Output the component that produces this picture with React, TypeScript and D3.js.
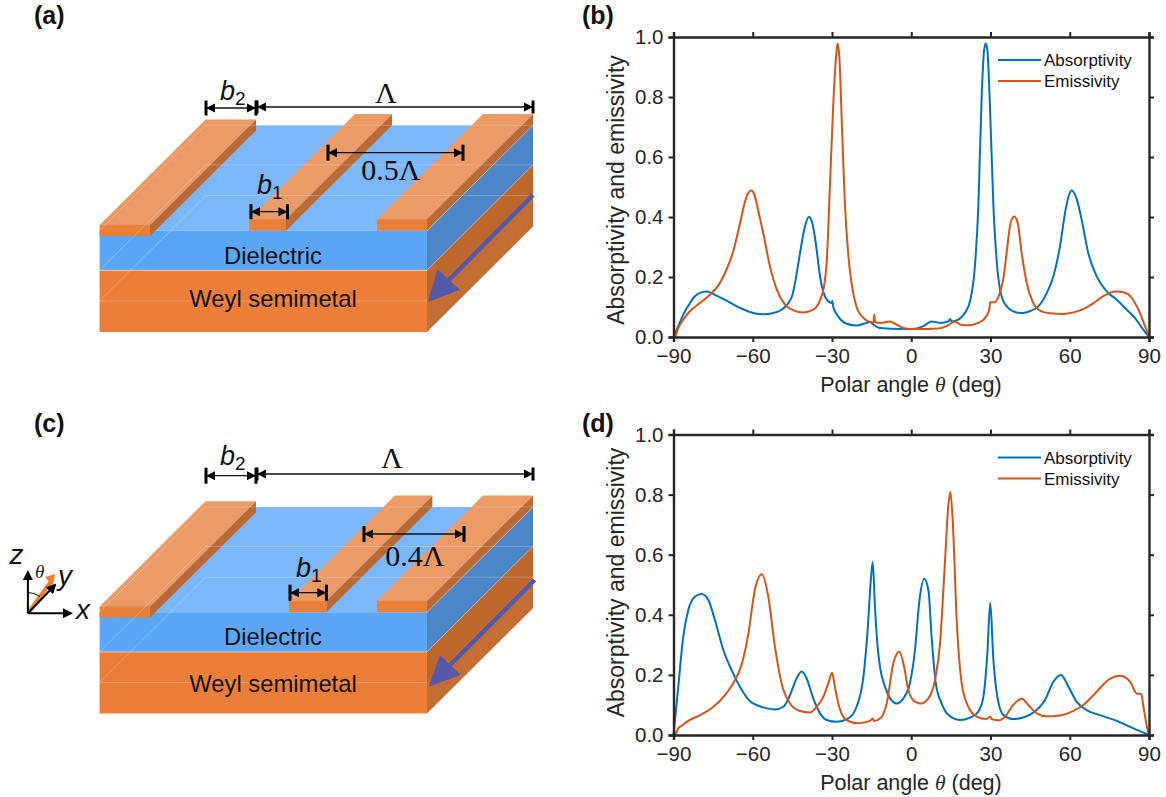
import React, { useEffect, useRef } from 'react';
import * as d3 from 'd3';

type Pt = [number, number];

const xTicks = [-90, -60, -30, 0, 30, 60, 90];
const yTicks = [0, 0.2, 0.4, 0.6, 0.8, 1];
const seriesNames = ['Absorptivity', 'Emissivity'];

// panel (b) as [angle, value]
const absorptivityB: Pt[] = [
  [-90, 0], [-88, 0.04], [-86, 0.08], [-84, 0.11], [-82, 0.135], [-80, 0.147], [-77.4, 0.152], [-73.7, 0.138], [-69.9, 0.121],
  [-64.8, 0.097], [-59.8, 0.08], [-56, 0.076], [-52.2, 0.08], [-49.1, 0.091], [-46.5, 0.113], [-45, 0.14], [-44, 0.18], [-42.1, 0.28],
  [-40.2, 0.37], [-38.8, 0.4], [-37.6, 0.385], [-36.6, 0.34], [-35.8, 0.29], [-34.5, 0.2], [-33.3, 0.15], [-31.4, 0.119], [-30.1, 0.113],
  [-29.9, 0.12], [-29.5, 0.1], [-27.6, 0.068], [-24.4, 0.044], [-20.7, 0.038], [-16.9, 0.047], [-15.5, 0.05], [-14.4, 0.042], [-11.8, 0.03],
  [-4.2, 0.027], [0.8, 0.027], [4.6, 0.036], [7.7, 0.052], [10.9, 0.047], [14.1, 0.052], [14.7, 0.06], [15.3, 0.052], [17.8, 0.058],
  [20.3, 0.08], [22.4, 0.124], [24.1, 0.236], [25.4, 0.436], [26.7, 0.813], [27.6, 0.958], [28.2, 0.978], [28.8, 0.958], [29.8, 0.769],
  [31.1, 0.436], [32.3, 0.258], [34.2, 0.136], [36.7, 0.097], [39.9, 0.082], [42.4, 0.08], [44.9, 0.086], [48.1, 0.102], [51.3, 0.147],
  [53.8, 0.202], [56.3, 0.302], [58.2, 0.413], [59.6, 0.47], [60.7, 0.488], [62.7, 0.458], [64.5, 0.391], [67, 0.28], [70.2, 0.202],
  [74, 0.152], [77.8, 0.124], [81.6, 0.091], [84.7, 0.063], [87.9, 0.024], [90, 0],
];
const emissivityB: Pt[] = [
  [-90, 0], [-89.4, 0.002], [-88.2, 0.03], [-86.3, 0.058], [-83.8, 0.086], [-80, 0.113], [-76.2, 0.141], [-73, 0.172], [-69.9, 0.225],
  [-67.4, 0.285], [-64.8, 0.38], [-62.9, 0.452], [-61.7, 0.48], [-60.6, 0.488], [-59.4, 0.475], [-57.9, 0.42], [-56, 0.345], [-53.5, 0.236],
  [-50.9, 0.158], [-47.8, 0.108], [-44.6, 0.089], [-40.8, 0.082], [-37.1, 0.091], [-34.5, 0.124], [-33, 0.17], [-32, 0.25], [-30.8, 0.5],
  [-29.5, 0.78], [-28.5, 0.93], [-27.9, 0.978], [-27.2, 0.93], [-26.3, 0.72], [-25.2, 0.46], [-23.8, 0.27], [-22.6, 0.18], [-20.7, 0.1],
  [-18.8, 0.07], [-16.3, 0.052], [-14.6, 0.048], [-14.3, 0.05], [-14, 0.075], [-13.7, 0.05], [-11.8, 0.047], [-8, 0.052], [-5.5, 0.041],
  [-3, 0.03], [0, 0.027], [5.8, 0.027], [10.2, 0.028], [13.4, 0.036], [16.5, 0.052], [19, 0.04], [21.6, 0.039], [25.4, 0.047], [27.9, 0.063],
  [29.5, 0.091], [29.9, 0.116], [31.7, 0.116], [33.3, 0.141], [34.8, 0.191], [36.1, 0.28], [37.6, 0.38], [39, 0.402], [40.3, 0.38], [41.8, 0.28],
  [43.7, 0.18], [46.2, 0.113], [48.7, 0.088], [52.5, 0.079], [57.6, 0.077], [61.4, 0.082], [65.1, 0.093], [69, 0.113], [72.7, 0.136],
  [77.2, 0.152], [80.3, 0.149], [83.5, 0.13], [86, 0.091], [88.5, 0.036], [90, 0],
];

// panel (d)
const absorptivityD: Pt[] = [
  [-90, 0], [-88.2, 0.16], [-86.3, 0.327], [-84.4, 0.416], [-81.9, 0.46], [-79.3, 0.469], [-76.8, 0.449], [-74.3, 0.382], [-71.1, 0.282],
  [-68, 0.216], [-64.8, 0.16], [-61, 0.112], [-56, 0.092], [-51.6, 0.085], [-48.4, 0.094], [-45.9, 0.133], [-43.4, 0.188], [-41.5, 0.211],
  [-39.6, 0.188], [-37.1, 0.122], [-34.5, 0.072], [-32, 0.05], [-28.2, 0.044], [-23.8, 0.055], [-20.7, 0.094], [-18.1, 0.194], [-16.6, 0.338],
  [-15.3, 0.515], [-14.6, 0.576], [-13.7, 0.42], [-12.8, 0.3], [-11.8, 0.225], [-9.9, 0.16], [-8, 0.122], [-5.5, 0.105], [-3, 0.122],
  [-0.5, 0.172], [1.4, 0.282], [3.1, 0.448], [4.9, 0.52], [6.5, 0.482], [7.7, 0.327], [9.3, 0.172], [11.5, 0.105], [14, 0.067], [18.4, 0.05],
  [22.2, 0.058], [25.4, 0.078], [27.3, 0.127], [28.8, 0.271], [29.9, 0.44], [31.1, 0.25], [32.3, 0.144], [34.8, 0.067], [38.7, 0.053],
  [42.4, 0.058], [46.8, 0.078], [50.6, 0.116], [53.8, 0.177], [56.7, 0.2], [59.5, 0.161], [62.6, 0.111], [66.4, 0.083], [71.4, 0.066],
  [77.8, 0.047], [84.1, 0.022], [90, 0],
];
const emissivityD: Pt[] = [
  [-90, 0], [-89.4, 0.002], [-88.2, 0.022], [-86.9, 0.031], [-83.8, 0.05], [-80, 0.066], [-74.9, 0.094], [-70.5, 0.133], [-67.4, 0.172],
  [-64.2, 0.235], [-61.7, 0.335], [-59.2, 0.483], [-56.6, 0.535], [-54.1, 0.46], [-51.6, 0.294], [-49.1, 0.172], [-45.9, 0.105], [-42.1, 0.08],
  [-38.3, 0.075], [-35.8, 0.094], [-33.3, 0.127], [-31.4, 0.172], [-30, 0.207], [-28.9, 0.16], [-27.6, 0.105], [-25.7, 0.06], [-23.2, 0.044],
  [-20, 0.039], [-15.6, 0.047], [-14.6, 0.055], [-14.1, 0.047], [-11.8, 0.055], [-9.3, 0.105], [-6.8, 0.238], [-4.5, 0.277], [-2.7, 0.227],
  [-1.1, 0.15], [1.4, 0.111], [3.6, 0.105], [6.5, 0.122], [9, 0.183], [10.9, 0.305], [12.8, 0.582], [14, 0.76], [14.8, 0.809], [15.7, 0.715],
  [17.2, 0.383], [19.1, 0.172], [21.6, 0.094], [24.8, 0.061], [28.5, 0.053], [29.9, 0.061], [30.5, 0.053], [32.9, 0.049], [35.5, 0.061],
  [38.6, 0.1], [41.8, 0.121], [44.3, 0.1], [47.5, 0.072], [51.2, 0.062], [56.3, 0.065], [61.4, 0.08], [65.8, 0.105], [70.2, 0.144], [75.3, 0.188],
  [79.1, 0.197], [82.9, 0.177], [85.4, 0.138], [87.1, 0.136], [87.9, 0.094], [89.2, 0.028], [89.8, 0.005], [90, 0],
];

const BLUE = '#0072BD';
const ORANGE = '#D95319';
const INK = '#262626';
const SANS = '"Liberation Sans", Arial, sans-serif';
const SERIF = '"Liberation Serif", serif';

function Plot({ top, bottom, abs, emi, labelY }: { top: number; bottom: number; abs: Pt[]; emi: Pt[]; labelY: number }) {
  const ref = useRef<SVGGElement>(null);

  useEffect(() => {
    const left = 673.5;
    const right = 1149;
    const x = d3.scaleLinear().domain([-90, 90]).range([left, right]);
    const y = d3.scaleLinear().domain([0, 1]).range([bottom, top]);
    const g = d3.select(ref.current);
    g.selectAll('*').remove();

    const line = d3.line<Pt>().x(d => x(d[0])).y(d => y(d[1])).curve(d3.curveMonotoneX);
    g.append('path').attr('d', line(abs)).attr('fill', 'none').attr('stroke', BLUE).attr('stroke-width', 2);
    g.append('path').attr('d', line(emi)).attr('fill', 'none').attr('stroke', ORANGE).attr('stroke-width', 2);

    const xFmt = (d: any) => (d < 0 ? `\u2212${-d}` : `${d}`);
    const yFmt = (d: any) => d3.format('.1f')(d);
    const axes = [
      { a: d3.axisBottom(x).tickValues(xTicks).tickFormat(xFmt).tickPadding(6), t: `translate(0,${bottom})` },
      { a: d3.axisTop(x).tickValues(xTicks).tickFormat(() => ''), t: `translate(0,${top})` },
      { a: d3.axisLeft(y).tickValues(yTicks).tickFormat(yFmt).tickPadding(5), t: `translate(${left},0)` },
      { a: d3.axisRight(y).tickValues(yTicks).tickFormat(() => ''), t: `translate(${right},0)` },
    ];
    axes.forEach(({ a, t }) => {
      const ax = g.append('g').attr('transform', t).call(a.tickSize(5) as any);
      ax.attr('font-family', SANS).attr('font-size', 20.5);
      ax.select('.domain').attr('stroke', INK).attr('stroke-width', 2.4);
      ax.selectAll('.tick line').attr('stroke', INK).attr('stroke-width', 2);
      ax.selectAll('.tick text').attr('fill', INK);
    });

    // legend
    const legendY = [top + 23, top + 44];
    seriesNames.forEach((name, i) => {
      g.append('line').attr('x1', 998).attr('x2', 1041).attr('y1', legendY[i]).attr('y2', legendY[i])
        .attr('stroke', i === 0 ? BLUE : ORANGE).attr('stroke-width', 2.2);
      g.append('text').attr('x', 1044).attr('y', legendY[i] + 6).attr('font-family', SANS)
        .attr('font-size', 17).attr('fill', '#111').text(name);
    });

    g.append('text').attr('transform', `translate(624,${labelY}) rotate(-90)`)
      .attr('text-anchor', 'middle').attr('font-family', SANS).attr('font-size', 23).attr('fill', INK)
      .text('Absorptivity and emissivity');

    const xl = g.append('text').attr('x', 911).attr('y', bottom + 55).attr('text-anchor', 'middle')
      .attr('font-family', SANS).attr('font-size', 21.5).attr('fill', INK);
    xl.append('tspan').text('Polar angle ');
    xl.append('tspan').attr('font-family', SERIF).attr('font-style', 'italic').text('\u03B8');
    xl.append('tspan').text(' (deg)');
  }, [top, bottom, abs, emi, labelY]);

  return <g ref={ref} />;
}

function Dim({ x1, x2, y, h }: { x1: number; x2: number; y: number; h: number }) {
  const head = 9;
  const hw = 4.5;
  return (
    <g>
      <line x1={x1} x2={x2} y1={y} y2={y} stroke="#111" strokeWidth={1.3} />
      <line x1={x1} x2={x1} y1={y - h} y2={y + h} stroke="#000" strokeWidth={3} />
      <line x1={x2} x2={x2} y1={y - h} y2={y + h} stroke="#000" strokeWidth={3} />
      <path d={`M${x1},${y}L${x1 + head},${y - hw}L${x1 + head},${y + hw}Z`} fill="#000" />
      <path d={`M${x2},${y}L${x2 - head},${y - hw}L${x2 - head},${y + hw}Z`} fill="#000" />
    </g>
  );
}

function Poly({ pts, fill, opacity }: { pts: Pt[]; fill: string; opacity?: number }) {
  return <polygon points={pts.map(p => p.join(',')).join(' ')} fill={fill} fillOpacity={opacity ?? 1} />;
}

const DEPTH_X = 106;
const DEPTH_Y = 105.4;

function Strip({ x0, x1, yTop, h }: { x0: number; x1: number; yTop: number; h: number }) {
  const b = yTop - DEPTH_Y;
  return (
    <g>
      <Poly pts={[[x1, yTop], [x1 + DEPTH_X, b], [x1 + DEPTH_X, b + h], [x1, yTop + h]]} fill="#BC6A33" />
      <Poly pts={[[x0, yTop], [x1, yTop], [x1 + DEPTH_X, b], [x0 + DEPTH_X, b]]} fill="#EC9A66" />
      <Poly pts={[[x0, yTop], [x1, yTop], [x1, yTop + h], [x0, yTop + h]]} fill="#EA7F38" />
    </g>
  );
}

function Block({ dy, stripX, arrow }: { dy: number; stripX: [number, number]; arrow: Pt[] }) {
  const L = 99.6;
  const R = 427;
  const T = 230.7 + dy; // front top edge of the dielectric
  const M = 270.3 + dy;
  const S = 301 + dy; // faint seam inside the metal layer
  const B = 332 + dy;
  const dx = DEPTH_X;
  const d = DEPTH_Y;
  const hidden = 'rgba(255,255,255,0.3)';
  return (
    <g>
      <Poly pts={[[R, T], [R + dx, T - d], [R + dx, M - d], [R, M]]} fill="#4C86C6" />
      <Poly pts={[[R, M], [R + dx, M - d], [R + dx, B - d], [R, B]]} fill="#C46E33" />
      <Poly pts={[[R, M], [R + dx, M - d], [R + dx, S - d], [R, S]]} fill="#BE672A" />
      <Poly pts={[[L, T], [R, T], [R + dx, T - d], [L + dx, T - d]]} fill="#7BB7F9" />
      <Poly pts={[[L, T], [R, T], [R, M], [L, M]]} fill="#5BA7F5" />
      <Poly pts={[[L, M], [R, M], [R, B], [L, B]]} fill="#ED7E37" />
      <Strip x0={stripX[0]} x1={stripX[1]} yTop={219.3 + dy} h={11.4} />
      <Strip x0={377} x1={R} yTop={219.3 + dy} h={11.4} />
      <Strip x0={L} x1={150} yTop={225 + dy} h={11} />
      <g stroke={hidden} strokeWidth={0.8} fill="none">
        <path d={`M${L},${T}L${L + dx},${T - d}H${R + dx}M${L},${M}L${L + dx},${M - d}H${R + dx}M${L},${S}L${L + dx},${S - d}H${R + dx}M${L},${S}H${R}`} />
      </g>
      <path d={`M${L},${M}H${R}`} stroke="rgba(255,255,255,0.5)" strokeWidth={1} />
      <path d={`M${R},${M}L${R + dx},${M - d}M${R},${T}L${R + dx},${T - d}`} stroke="rgba(255,255,255,0.35)" strokeWidth={1} />
      <line x1={arrow[0][0]} y1={arrow[0][1]} x2={arrow[1][0]} y2={arrow[1][1]} stroke="#5558A8" strokeWidth={4.5} />
      <Poly pts={arrow.slice(2)} fill="#5558A8" />
    </g>
  );
}

function Bsub({ x, y, sub }: { x: number; y: number; sub: string }) {
  return (
    <text x={x} y={y} fontFamily={SANS} fontSize={27} fill="#111">
      <tspan fontStyle="italic">b</tspan>
      <tspan fontSize={19} dy={5}>{sub}</tspan>
    </text>
  );
}

function Lam({ x, y, children }: { x: number; y: number; children: string }) {
  return <text x={x} y={y} textAnchor="middle" fontFamily={SERIF} fontSize={30} fill="#111">{children}</text>;
}

function Label({ x, y, children }: { x: number; y: number; children: string }) {
  return <text x={x} y={y} fontFamily={SANS} fontWeight="bold" fontSize={25} fill="#111">{children}</text>;
}

function Mid({ y, children }: { y: number; children: string }) {
  return <text x={273} y={y} textAnchor="middle" fontFamily={SANS} fontSize={23.8} fill="#111">{children}</text>;
}

export default function App() {
  return (
    <svg width={1166} height={797} style={{ position: 'absolute', left: 0, top: 0, background: '#fff' }}>
      <defs>
        <marker id="ah" markerWidth="5" markerHeight="5" refX="4" refY="2.5" orient="auto" markerUnits="strokeWidth">
          <path d="M0,0L5,2.5L0,5Z" fill="#000" />
        </marker>
      </defs>

      <Label x={34} y={24}>(a)</Label>
      <Label x={582} y={24}>(b)</Label>
      <Label x={34} y={432}>(c)</Label>
      <Label x={582} y={432}>(d)</Label>

      {/* schematic (a) */}
      <Block dy={0} stripX={[249, 286]} arrow={[[533, 195], [446, 283], [428, 301.7], [437.5, 269], [460, 290]]} />
      <Dim x1={206} x2={256} y={108} h={7.5} />
      <Dim x1={257} x2={533} y={107} h={6.5} />
      <Dim x1={328} x2={463} y={152.7} h={8} />
      <Dim x1={251} x2={287.5} y={211.7} h={7.5} />
      <Bsub x={220} y={100} sub="2" />
      <Bsub x={257} y={194} sub="1" />
      <Lam x={386} y={102.7}>{'\u039B'}</Lam>
      <Lam x={391} y={180}>{'0.5\u039B'}</Lam>
      <Mid y={264}>Dielectric</Mid>
      <Mid y={307}>Weyl semimetal</Mid>

      {/* schematic (c) */}
      <Block dy={381.6} stripX={[289, 326.4]} arrow={[[534.6, 580], [447, 668], [428.6, 686.7], [440, 655], [460.7, 675]]} />
      <Dim x1={206} x2={256} y={475.7} h={8} />
      <Dim x1={257} x2={533} y={474} h={6.5} />
      <Dim x1={364} x2={464} y={534} h={8} />
      <Dim x1={290} x2={326.4} y={592.7} h={8} />
      <Bsub x={220} y={465} sub="2" />
      <Bsub x={296} y={576.7} sub="1" />
      <Lam x={392} y={467.7}>{'\u039B'}</Lam>
      <Lam x={415} y={565.7}>{'0.4\u039B'}</Lam>
      <Mid y={645}>Dielectric</Mid>
      <Mid y={691.5}>Weyl semimetal</Mid>

      {/* coordinate triad */}
      <g>
        <line x1={27.9} y1={613.3} x2={52} y2={580} stroke="#ED7E37" strokeWidth={4} />
        <path d="M45,577L55,574L53,586Z" fill="#ED7E37" />
        <g stroke="#000" strokeWidth={2} fill="none">
          <line x1={27.9} y1={613.3} x2={27.9} y2={572} markerEnd="url(#ah)" />
          <line x1={27.9} y1={613.3} x2={71} y2={613.3} markerEnd="url(#ah)" />
          <line x1={27.9} y1={613.3} x2={55} y2={585} markerEnd="url(#ah)" />
        </g>
        <path d="M27.9,592.5Q34,592.5 40,596.5" stroke="#111" strokeWidth={1} fill="none" />
        <text x={9.5} y={564} fontFamily={SANS} fontStyle="italic" fontSize={28} fill="#111">z</text>
        <text x={35} y={577.7} fontFamily={SERIF} fontStyle="italic" fontSize={19} fill="#222">{'\u03B8'}</text>
        <text x={58} y={585} fontFamily={SANS} fontStyle="italic" fontSize={28} fill="#111">y</text>
        <text x={76} y={619} fontFamily={SANS} fontStyle="italic" fontSize={28} fill="#111">x</text>
      </g>

      <Plot top={37} bottom={337} abs={absorptivityB} emi={emissivityB} labelY={190} />
      <Plot top={434.5} bottom={735} abs={absorptivityD} emi={emissivityD} labelY={582.5} />
    </svg>
  );
}
